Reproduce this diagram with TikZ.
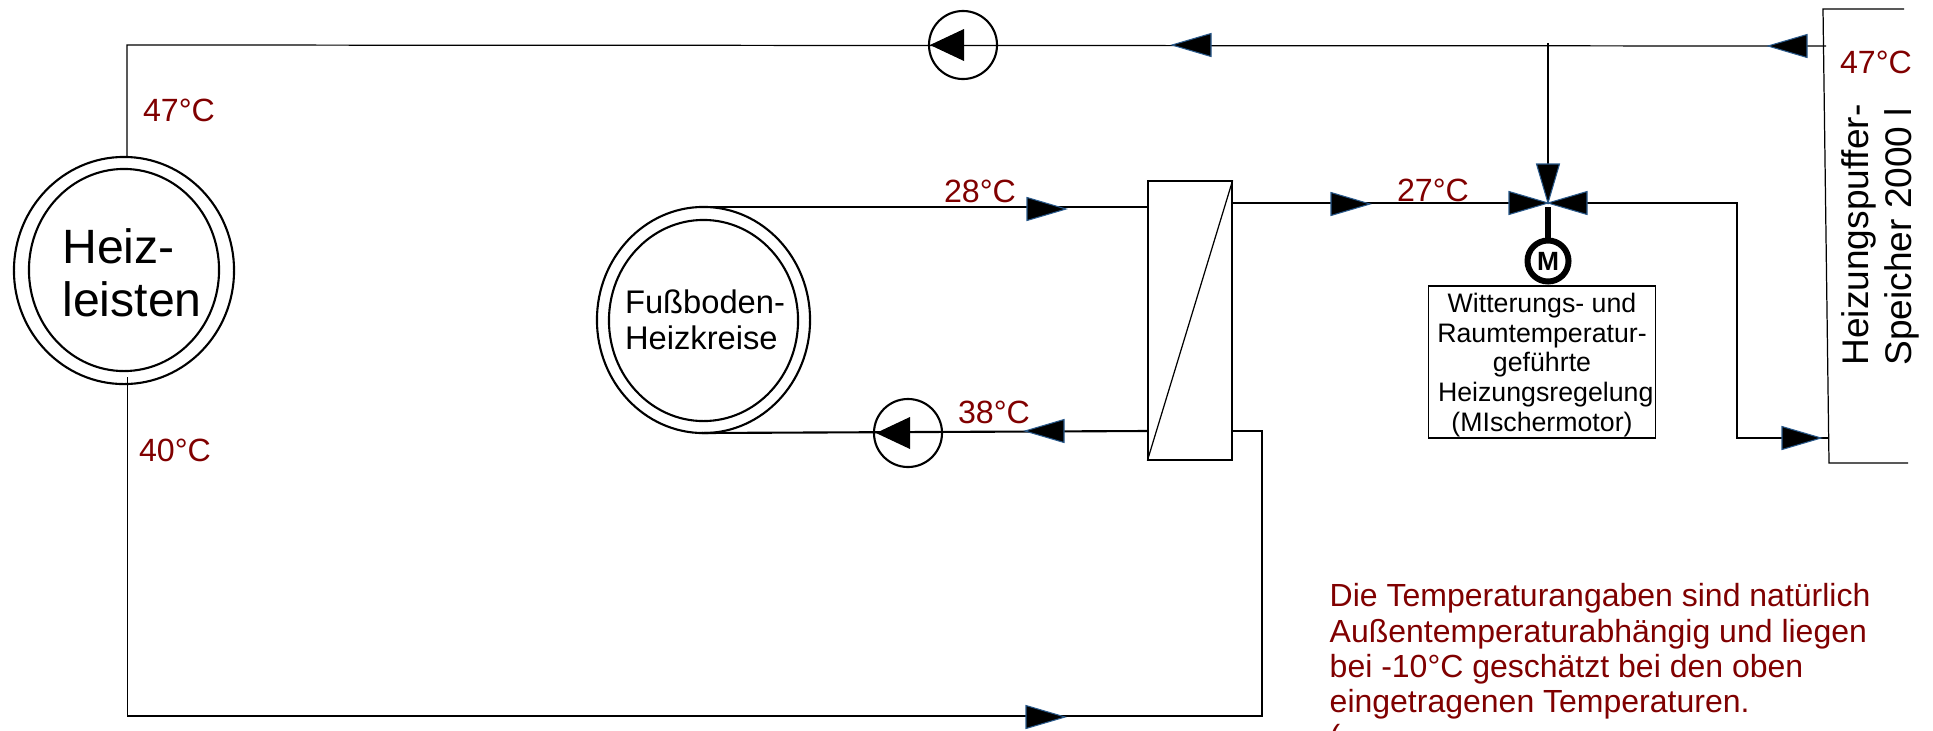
\documentclass[tikz,border=0pt]{standalone}
\usepackage{fontspec}
\setmainfont{Liberation Sans}
\usetikzlibrary{shapes.geometric}
\definecolor{tempred}{HTML}{800000}
\definecolor{tipblue}{HTML}{2A5A8C}
\tikzset{
  leitung/.style={line width=.35pt},
  ring/.style={draw,ellipse,line width=.6pt,inner sep=0},
  pumpe/.style={draw,circle,line width=.6pt,inner sep=0,minimum size=.68cm},
  temp/.style={text=tempred,inner sep=0,font=\fontsize{9.15}{11}\selectfont},
}
\newcommand{\flowtip}[3]{\filldraw[draw=tipblue,line width=.3pt,shift={(#1,#2)},rotate=#3](0,0)--(-39,11.5)--(-39,-11.5)--cycle;}
\newcommand{\pumptip}[3]{\fill[shift={(#1,#2)},rotate=#3](0,0)--(-34,16)--(-34,-16)--cycle;}
\begin{document}
\begin{tikzpicture}[x=.01cm,y=-.01cm]
\useasboundingbox (0,0) rectangle (1933,730);
\node[ring,minimum width=2.2cm,minimum height=2.27cm](heizaussen) at (124,270.5){};
\node[ring,minimum width=1.9cm,minimum height=2.02cm](heizinnen) at (124,270){};
\node[inner sep=0,align=left,font=\fontsize{13.7}{15}\selectfont](heiz) at (132,273){Heiz-\\leisten};
\node[ring,minimum width=2.13cm,minimum height=2.26cm](fussaussen) at (703.5,320){};
\node[ring,minimum width=1.89cm,minimum height=2.01cm](fussinnen) at (703.5,320.5){};
\node[inner sep=0,align=left,font=\fontsize{9.3}{10.2}\selectfont](fuss) at (705,320){Fußboden-\\Heizkreise};
\node[pumpe](pumpeoben) at (963,45){};
\node[pumpe](pumpeunten) at (908,433){};
\node[draw,leitung,minimum width=.84cm,minimum height=2.79cm,inner sep=0](waermetauscher) at (1190,320.5){};
\node[draw,leitung,minimum width=2.27cm,minimum height=1.52cm,inner sep=0](regelung) at (1542,362){};
\node[inner sep=0,align=center,font=\fontsize{7.6}{8.4}\selectfont](regeltext) at (1542,365){Witterungs- und\ \\Raumtemperatur-\\geführte\\\ Heizungsregelung\\(MIschermotor)};
\node[draw,circle,line width=1.7pt,minimum size=.41cm,inner sep=0](motor) at (1548,261){};
\node[inner sep=0,font=\fontsize{7.5}{8}\selectfont\bfseries](motorm) at (1548,261){M};
\coordinate (ventil) at (1548,203);
\coordinate (obenlinks) at (127,45);
\coordinate (obenrechts) at (1826,46);
\coordinate (abzweig) at (1548,43);
\coordinate (heizoben) at (127,157);
\coordinate (heizunten) at (127.5,377);
\coordinate (untenlinks) at (127.5,716);
\coordinate (untenrechts) at (1262,716);
\coordinate (tauscherrueck) at (1262,431);
\coordinate (tauscherlinksunten) at (1148,431);
\coordinate (tauscherrechtsunten) at (1232,431);
\coordinate (fussoben) at (702,207);
\coordinate (fussunten) at (702,433);
\coordinate (tauscherlinksoben) at (1148,207);
\coordinate (tauscherrechtsoben) at (1232,203);
\coordinate (rechtsknick) at (1737,203);
\coordinate (speicherein) at (1829,438);
\coordinate (speicherol) at (1904,9);
\coordinate (speicherom) at (1823,9);
\coordinate (speicherum) at (1829,463);
\coordinate (speicherur) at (1908,463);
\draw[leitung] (heizoben)--(obenlinks)--(obenrechts);
\draw[leitung] (heizunten)--(untenlinks)--(untenrechts)--(tauscherrueck)--(tauscherrechtsunten);
\draw[line width=.6pt] (fussoben)--(tauscherlinksoben);
\draw[line width=.6pt] (fussunten)--(tauscherlinksunten);
\draw[leitung] (waermetauscher.south west)--(waermetauscher.north east);
\draw[leitung] (tauscherrechtsoben)--(ventil)--(rechtsknick)|-(speicherein);
\draw[leitung] (abzweig)--(ventil);
\draw[leitung] (speicherol)--(speicherom)--(speicherum)--(speicherur);
\draw[line width=1.7pt] ([yshift=-.04cm]ventil)--(motor);
\pumptip{930}{45}{180}
\pumptip{876}{433}{180}
\flowtip{1172}{45}{180}
\flowtip{1768}{46}{180}
\flowtip{1066}{209}{0}
\flowtip{1025}{431}{180}
\flowtip{1370}{204}{0}
\flowtip{1821}{438}{0}
\flowtip{1065}{717}{0}
\flowtip{1548}{203}{-90}
\flowtip{1548}{203}{0}
\flowtip{1548}{203}{180}
\node[temp](tempvorlauf) at (179,110){47°C};
\node[temp](temprueck) at (175,450){40°C};
\node[temp](tempfussvor) at (980,191){28°C};
\node[temp](tempfussrueck) at (994,412){38°C};
\node[temp](tempmisch) at (1433,190){27°C};
\node[temp](tempspeicher) at (1876,62){47°C};
\node[rotate=90,inner sep=0,align=left,font=\fontsize{10.55}{12.2}\selectfont](speicher) at (1880,235){Heizungspuffer-\\Speicher 2000 l};
\node[anchor=north west,inner sep=0,text=tempred,align=left,font=\fontsize{9.1}{10}\selectfont](hinweis) at (1329,583){Die Temperaturangaben sind natürlich\\Außentemperaturabhängig und liegen\\bei -10°C geschätzt bei den oben\\eingetragenen Temperaturen.\\(};
\end{tikzpicture}
\end{document}
